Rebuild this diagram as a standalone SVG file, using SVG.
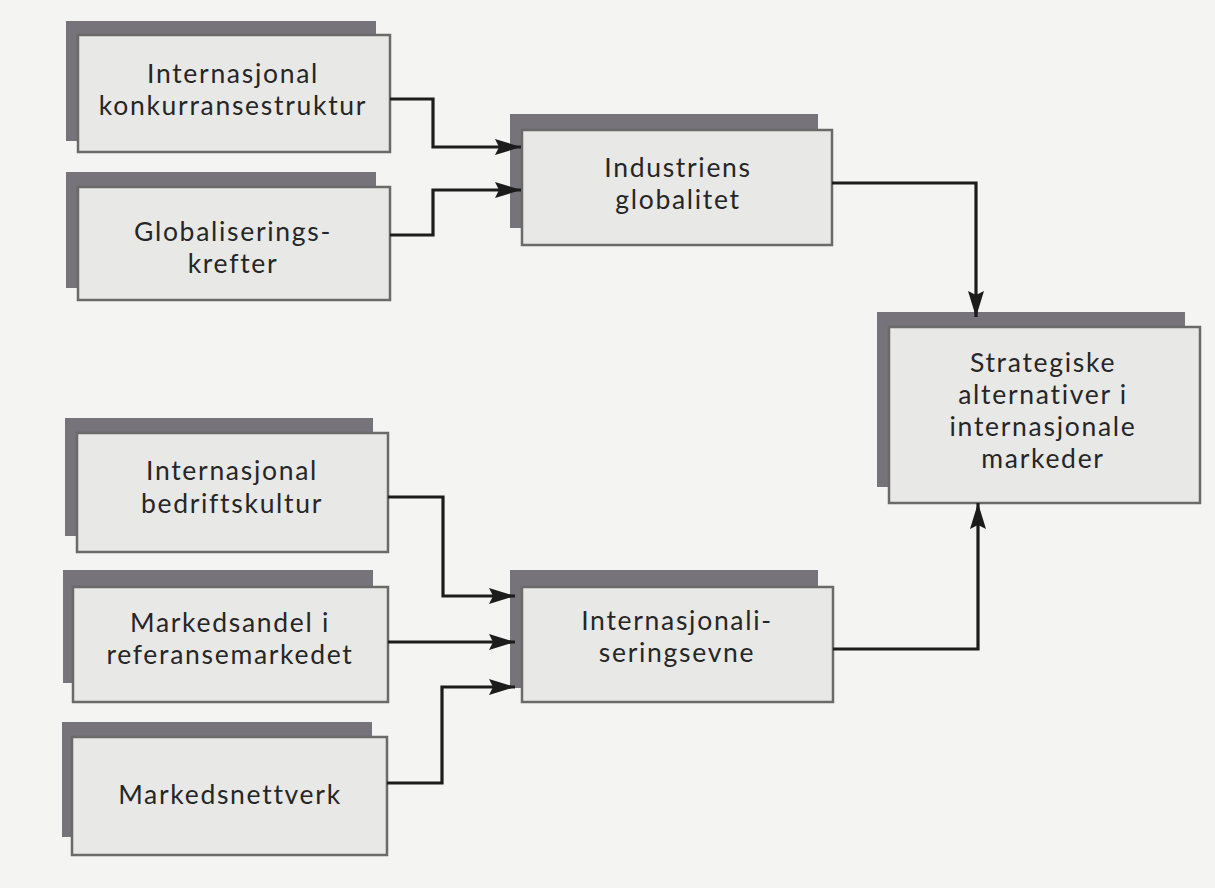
<svg xmlns="http://www.w3.org/2000/svg" width="1215" height="888" viewBox="0 0 1215 888">
<defs>
<style>
.sh{fill:#77737a}
.fr{fill:#e8e8e7;stroke:#6a6a6a;stroke-width:2.5}
.t{font-family:Lato,"Open Sans","DejaVu Sans",sans-serif;font-size:26.5px;letter-spacing:1.7px;fill:#262626;text-anchor:middle}
.c{fill:none;stroke:#1c1c1c;stroke-width:3.2}
</style>
<marker id="ah" markerUnits="userSpaceOnUse" markerWidth="28" markerHeight="16" refX="26" refY="8" orient="auto">
<path d="M0,0 L26,8 L0,16 L4,8 z" fill="#1c1c1c"/>
</marker>
</defs>
<rect x="0" y="0" width="1215" height="888" fill="#f4f4f2"/>

<g id="n1">
<rect class="sh" x="66" y="21" width="310" height="120"/>
<rect class="fr" x="78" y="35" width="312" height="117"/>
<text class="t" x="233" y="83">Internasjonal</text>
<text class="t" x="233" y="115">konkurransestruktur</text>
</g>
<g id="n2">
<rect class="sh" x="66" y="172" width="310" height="116"/>
<rect class="fr" x="78" y="187" width="312" height="113"/>
<text class="t" x="233" y="241">Globaliserings-</text>
<text class="t" x="233" y="273">krefter</text>
</g>
<g id="n3">
<rect class="sh" x="510" y="114" width="308" height="114"/>
<rect class="fr" x="522" y="130" width="310" height="115"/>
<text class="t" x="678" y="177">Industriens</text>
<text class="t" x="678" y="209">globalitet</text>
</g>
<g id="n4">
<rect class="sh" x="877" y="312" width="308" height="175"/>
<rect class="fr" x="889" y="327" width="311" height="176"/>
<text class="t" x="1043" y="372">Strategiske</text>
<text class="t" x="1043" y="404">alternativer i</text>
<text class="t" x="1043" y="436">internasjonale</text>
<text class="t" x="1043" y="468">markeder</text>
</g>
<g id="n5">
<rect class="sh" x="510" y="570" width="308" height="118"/>
<rect class="fr" x="522" y="587" width="311" height="115"/>
<text class="t" x="677" y="630">Internasjonali-</text>
<text class="t" x="677" y="662">seringsevne</text>
</g>
<g id="n6">
<rect class="sh" x="65" y="418" width="308" height="118"/>
<rect class="fr" x="77" y="433" width="311" height="119"/>
<text class="t" x="232" y="480">Internasjonal</text>
<text class="t" x="232" y="513">bedriftskultur</text>
</g>
<g id="n7">
<rect class="sh" x="63" y="570" width="310" height="113"/>
<rect class="fr" x="73" y="587" width="315" height="115"/>
<text class="t" x="230" y="632">Markedsandel i</text>
<text class="t" x="230" y="664">referansemarkedet</text>
</g>
<g id="n8">
<rect class="sh" x="62" y="722" width="310" height="115"/>
<rect class="fr" x="72" y="737" width="315" height="118"/>
<text class="t" x="230" y="804">Markedsnettverk</text>
</g>

<g id="connectors">
<polyline class="c" points="390,99 433,99 433,147 521,147" marker-end="url(#ah)"/>
<polyline class="c" points="390,235 433,235 433,190 521,190" marker-end="url(#ah)"/>
<polyline class="c" points="832,183 976,183 976,317" marker-end="url(#ah)"/>
<polyline class="c" points="388,497 443,497 443,596 515,596" marker-end="url(#ah)"/>
<polyline class="c" points="388,642 515,642" marker-end="url(#ah)"/>
<polyline class="c" points="387,783 442,783 442,687 515,687" marker-end="url(#ah)"/>
<polyline class="c" points="833,649 978,649 978,503" marker-end="url(#ah)"/>
</g>
</svg>
